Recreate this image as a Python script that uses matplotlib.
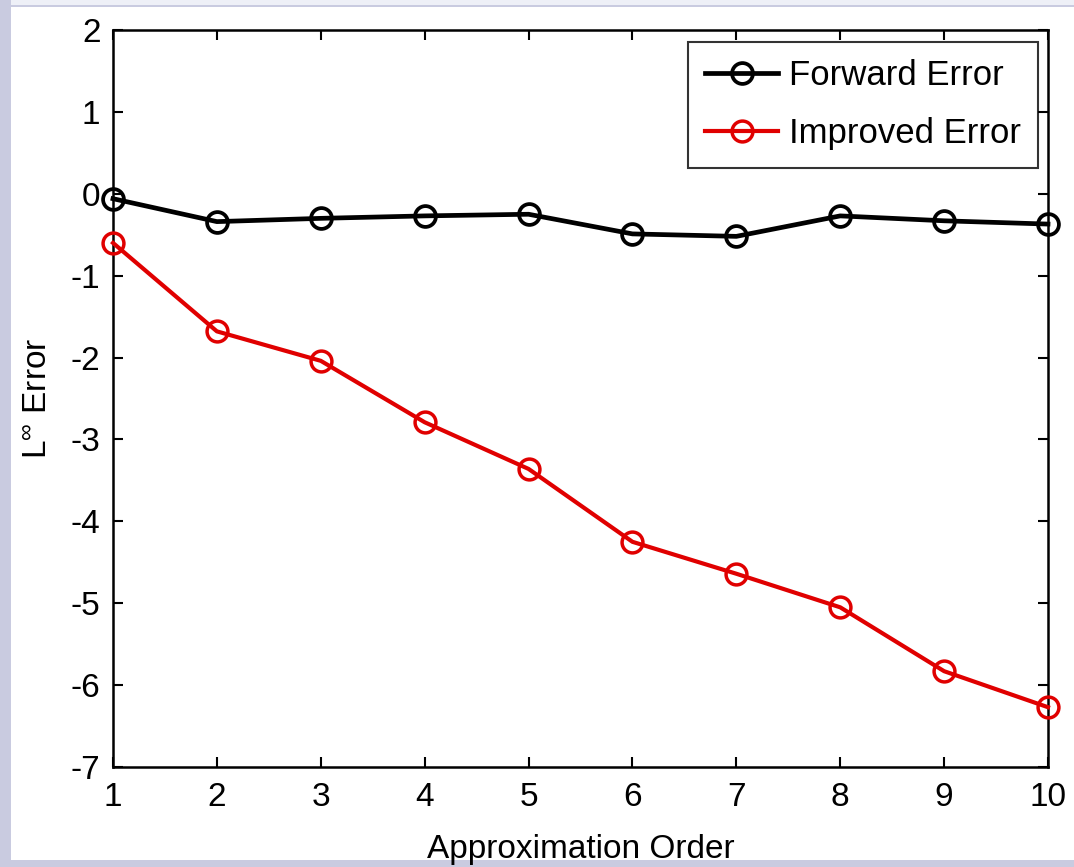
import matplotlib
matplotlib.use("Agg")
import matplotlib.pyplot as plt
from matplotlib.patches import Rectangle

orders = [1, 2, 3, 4, 5, 6, 7, 8, 9, 10]
forward_error = [-0.06, -0.34, -0.30, -0.27, -0.25, -0.49, -0.52, -0.27, -0.33, -0.37]
improved_error = [-0.60, -1.68, -2.04, -2.79, -3.36, -4.25, -4.64, -5.05, -5.83, -6.27]
x_ticks = [1, 2, 3, 4, 5, 6, 7, 8, 9, 10]
y_ticks = [2, 1, 0, -1, -2, -3, -4, -5, -6, -7]

plt.rcParams['font.family'] = ['Liberation Sans', 'DejaVu Sans']
plt.rcParams['axes.unicode_minus'] = False
plt.rcParams['mathtext.fontset'] = 'custom'
plt.rcParams['mathtext.rm'] = 'Liberation Sans'
plt.rcParams['mathtext.it'] = 'Liberation Sans'

fig = plt.figure(figsize=(10.74, 8.67), dpi=100)
fig.patch.set_facecolor('#c9cbe0')
fig.patches.append(Rectangle((11/1074, 7/867), 1 - 11/1074, (860-7)/867,
                             transform=fig.transFigure, facecolor='white',
                             edgecolor='none', zorder=-2))
fig.patches.append(Rectangle((11/1074, (867-5)/867), 1, 5/867,
                             transform=fig.transFigure, facecolor='#eef0f7',
                             edgecolor='none', zorder=-2))

ax = fig.add_axes([113/1074, 1 - 767/867, (1048-113)/1074, (767-30)/867])
ax.set_zorder(1)
ax.plot(orders, forward_error, '-o', color='black', lw=3.4, ms=15, mfc='none', mew=2.7,
        label='Forward Error', clip_on=False, zorder=3)
ax.plot(orders, improved_error, '-o', color='#e00000', lw=3, ms=15, mfc='none', mew=2.5,
        label='Improved Error', clip_on=False, zorder=3)

ax.set_xlim(1, 10)
ax.set_ylim(-7, 2)
ax.set_xticks(x_ticks)
ax.set_yticks(y_ticks)
ax.tick_params(direction='in', length=7, width=1.5, labelsize=24, top=True, right=True, pad=9)
ax.tick_params(axis='x', pad=11)
for s in ax.spines.values():
    s.set_linewidth(1.8)

ax.set_xlabel('Approximation Order', fontsize=24, labelpad=15)
ax.set_ylabel(r'L$^{\infty}$ Error', fontsize=24, labelpad=12)

leg = ax.legend(loc='upper right', bbox_to_anchor=(1 - 10/935, 1 - 12/737),
                fontsize=25, frameon=True, fancybox=False,
                edgecolor='black', handlelength=2.1, borderaxespad=0.0,
                borderpad=0.5, labelspacing=0.72, handletextpad=0.3)
leg.get_frame().set_linewidth(1.5)

fig.savefig('out.png', dpi=100, facecolor=fig.get_facecolor())
